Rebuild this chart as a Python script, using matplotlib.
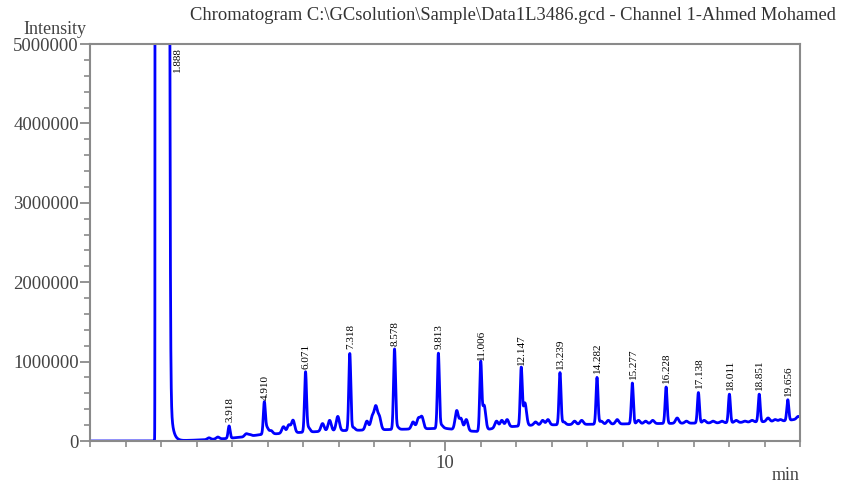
import numpy as np
import matplotlib
matplotlib.use("Agg")
import matplotlib.pyplot as plt
from matplotlib.ticker import MultipleLocator, FixedLocator

# ---- data (intensities in counts) ----
labeled_rt = [3.918, 4.910, 6.071, 7.318, 8.578, 9.813, 11.006, 12.147,
              13.239, 14.282, 15.277, 16.228, 17.138, 18.011, 18.851, 19.656]
labeled_apex = [190000, 470000, 860000, 1100000, 1150000, 1100000, 970000, 910000,
                860000, 800000, 730000, 680000, 610000, 590000, 590000, 520000]
labeled_text = ["3.918", "4.910", "6.071", "7.318", "8.578", "9.813", "11.006", "12.147",
                "13.239", "14.282", "15.277", "16.228", "17.138", "18.011", "18.851", "19.656"]

minor_rt = [3.35, 3.6, 4.4, 4.5, 4.98, 5.1, 5.45, 5.6, 5.72, 6.15, 6.55, 6.75, 6.98,
            7.42, 7.8, 7.95, 8.05, 8.15, 8.65, 9.1, 9.25, 9.35, 9.9, 10.33, 10.45, 10.6,
            11.1, 11.45, 11.6, 11.75, 12.25, 12.55, 12.75, 12.9, 13.35, 13.65, 13.85,
            14.4, 14.6, 14.85, 15.45, 15.65, 15.85, 16.54, 16.8, 17.3, 17.55, 17.8,
            18.2, 18.45, 18.65, 19.1, 19.3, 19.45, 19.95]
minor_apex = [40000, 50000, 90000, 80000, 170000, 130000, 180000, 200000, 260000, 170000,
              220000, 260000, 310000, 170000, 250000, 300000, 420000, 300000, 180000,
              240000, 280000, 300000, 200000, 380000, 280000, 270000, 450000, 250000,
              260000, 270000, 480000, 240000, 260000, 270000, 240000, 250000, 260000,
              250000, 260000, 270000, 260000, 250000, 260000, 290000, 250000, 260000,
              250000, 250000, 260000, 250000, 260000, 290000, 270000, 270000, 310000]

baseline_t = [0, 1.8, 2.6, 3.2, 3.8, 4.3, 4.8, 5.2, 6.0, 7.0, 8.0, 9.0, 10.0, 10.5,
              10.9, 11.5, 12.5, 14.0, 16.0, 18.0, 19.5, 20.0]
baseline_v = [0, 0, 5000, 15000, 30000, 50000, 80000, 90000, 110000, 130000, 140000,
              150000, 160000, 130000, 120000, 170000, 200000, 210000, 220000, 230000,
              250000, 280000]

solvent_rt = 1.888
solvent_apex = 1.0e12   # far off scale
solvent_text = "1.888"

title = r"Chromatogram C:\GCsolution\Sample\Data1L3486.gcd - Channel 1-Ahmed Mohamed"

# ---- build trace ----
t = np.linspace(0, 20, 16001)
base = np.interp(t, baseline_t, baseline_v)
y = base.copy()
for rt, ap in zip(labeled_rt, labeled_apex):
    h = ap - np.interp(rt, baseline_t, baseline_v)
    y += h * np.exp(-0.5 * ((t - rt) / 0.028) ** 2)
for rt, ap in zip(minor_rt, minor_apex):
    h = max(ap - np.interp(rt, baseline_t, baseline_v), 0)
    y += h * np.exp(-0.5 * ((t - rt) / 0.045) ** 2)
sig = np.where(t < solvent_rt, 0.0117, 0.0733)
y += solvent_apex * np.exp(-0.5 * ((t - solvent_rt) / sig) ** 2)
y += np.where(t > 2.25, 600000 * np.exp(-(t - 2.25) / 0.07), 0)

# ---- figure ----
plt.rcParams['font.family'] = ['Liberation Serif', 'DejaVu Serif']
fig = plt.figure(figsize=(8.5, 4.83), dpi=100)
ax = fig.add_axes([90 / 850, 42 / 483, 710 / 850, 397 / 483])
ax.plot(t, y, color='#0000ff', lw=2.0, solid_joinstyle='round')
ax.set_xlim(0, 20)
ax.set_ylim(0, 5000000)

gray = '#8a8a8a'
for s in ax.spines.values():
    s.set_color(gray)
    s.set_linewidth(1.5)

ax.yaxis.set_major_locator(MultipleLocator(1000000))
ax.yaxis.set_minor_locator(MultipleLocator(200000))
ax.yaxis.set_major_formatter(matplotlib.ticker.FuncFormatter(lambda v, p: f"{int(round(v))}"))
ax.xaxis.set_major_locator(FixedLocator([10]))
ax.xaxis.set_minor_locator(MultipleLocator(1))
ax.xaxis.set_major_formatter(matplotlib.ticker.FuncFormatter(lambda v, p: f"{int(v)}"))
ax.tick_params(axis='both', which='major', direction='out', length=7, width=1.3,
               color=gray, labelcolor='#444444', labelsize=13.5, pad=1)
ax.tick_params(axis='x', which='major', pad=3)
ax.tick_params(axis='both', which='minor', direction='out', length=4, width=1.2, color=gray)

for rt, ap, lab in zip(labeled_rt, labeled_apex, labeled_text):
    ax.annotate(lab, (rt, ap), xytext=(0.5, 3), textcoords='offset points',
                rotation=90, ha='center', va='bottom', fontsize=8, color='black')
ax.annotate(solvent_text, (solvent_rt, 5000000), xytext=(15, -2), textcoords='offset points',
            rotation=90, ha='center', va='top', fontsize=8, color='black')

fig.text(86 / 850, 1 - 29 / 483, "Intensity", ha='right', va='center', fontsize=13, color='#444444')
fig.text(836 / 850, 1 - 16 / 483, title, ha='right', va='center', fontsize=13.3, color='#333333')
fig.text(800 / 850, 1 - 476 / 483, "min", ha='right', va='center', fontsize=13, color='#444444')

fig.savefig("out.png", dpi=100)
